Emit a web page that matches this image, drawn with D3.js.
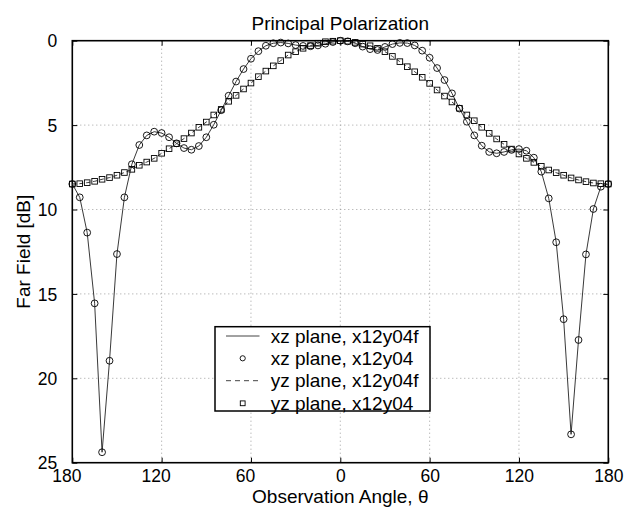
<!DOCTYPE html>
<html><head><meta charset="utf-8">
<script src="https://cdn.jsdelivr.net/npm/d3@7"></script>
<style>
html,body{margin:0;padding:0;background:#fff;}
text{font-family:"Liberation Sans",Arial,Helvetica,sans-serif;fill:#000;}
</style></head>
<body><svg id="chart" width="643" height="508"></svg>
<script>
const angles = d3.range(-180, 181, 5);
const xzValues = [8.49, 9.28, 11.37, 15.56, 24.38, 18.96, 12.64, 9.28, 7.32, 6.18, 5.61, 5.39, 5.47, 5.72, 6.08, 6.36, 6.46, 6.24, 5.72, 4.98, 4.12, 3.26, 2.42, 1.68, 1.07, 0.62, 0.30, 0.15, 0.11, 0.16, 0.26, 0.31, 0.33, 0.28, 0.18, 0.08, 0.00,
  0.04, 0.15, 0.35, 0.50, 0.55, 0.37, 0.20, 0.13, 0.14, 0.28, 0.59, 1.01, 1.62, 2.33, 3.12, 4.02, 4.80, 5.61, 6.22, 6.59, 6.67, 6.59, 6.47, 6.42, 6.52, 6.93, 7.76, 9.34, 11.94, 16.50, 23.32, 17.73, 12.66, 9.97, 8.65, 8.49];
const yzValues = [8.49, 8.47, 8.41, 8.33, 8.21, 8.11, 7.97, 7.81, 7.62, 7.38, 7.19, 6.97, 6.67, 6.40, 6.10, 5.80, 5.47, 5.13, 4.82, 4.40, 4.07, 3.59, 3.24, 2.86, 2.51, 2.13, 1.80, 1.49, 1.18, 0.85, 0.65, 0.45, 0.29, 0.15, 0.06, 0.03, 0.00,
  0.03, 0.10, 0.20, 0.30, 0.45, 0.65, 0.93, 1.24, 1.54, 1.84, 2.17, 2.53, 2.92, 3.28, 3.63, 4.00, 4.40, 4.74, 5.13, 5.49, 5.82, 6.14, 6.42, 6.71, 6.97, 7.21, 7.44, 7.66, 7.82, 7.97, 8.13, 8.25, 8.35, 8.43, 8.47, 8.49];
const xTickValues = [-180, -120, -60, 0, 60, 120, 180];
const xTickLabels = ["180", "120", "60", "0", "60", "120", "180"];
const yTickValues = [0, 5, 10, 15, 20, 25];
const legendLabels = ["xz plane, x12y04f", "xz plane, x12y04", "yz plane, x12y04f", "yz plane, x12y04"];
const titleText = "Principal Polarization";
const xLabel = "Observation Angle, \u03b8";
const yLabel = "Far Field [dB]";

const L = 72.3, R = 608.3, T = 40.7, B = 462.7;
const svg = d3.select("#chart");
const x = d3.scaleLinear().domain([-180, 180]).range([L, R]);
const y = d3.scaleLinear().domain([0, 25]).range([T, B]);

// grid
const grid = svg.append("g").attr("stroke", "#888").attr("stroke-width", 0.8).attr("stroke-dasharray", "1,3");
grid.selectAll(".gx").data(xTickValues.slice(1, -1)).enter().append("line")
  .attr("x1", d => x(d)).attr("x2", d => x(d)).attr("y1", T).attr("y2", B);
grid.selectAll(".gy").data(yTickValues.slice(1, -1)).enter().append("line")
  .attr("y1", d => y(d)).attr("y2", d => y(d)).attr("x1", L).attr("x2", R);

// axes with inner ticks
const labelMap = new Map(xTickValues.map((v, i) => [v, xTickLabels[i]]));
const axB = svg.append("g").attr("transform", `translate(0,${B})`)
  .call(d3.axisBottom(x).tickValues(xTickValues).tickSize(-5).tickPadding(7).tickFormat(d => labelMap.get(d)));
const axT = svg.append("g").attr("transform", `translate(0,${T})`)
  .call(d3.axisTop(x).tickValues(xTickValues).tickSize(-5).tickFormat(""));
const axL = svg.append("g").attr("transform", `translate(${L},0)`)
  .call(d3.axisLeft(y).tickValues(yTickValues).tickSize(-5).tickPadding(15).tickFormat(d3.format("d")));
const axR = svg.append("g").attr("transform", `translate(${R},0)`)
  .call(d3.axisRight(y).tickValues(yTickValues).tickSize(-5).tickFormat(""));
[axB, axT, axL, axR].forEach(a => {
  a.select(".domain").remove();
  a.selectAll(".tick line").attr("stroke", "#000").attr("stroke-width", 1);
  a.selectAll("text").style("font-family", '"Liberation Sans",Arial,sans-serif').style("font-size", "17.5px").attr("fill", "#000");
});
axB.selectAll(".tick text").attr("dx", d => d < 0 ? -6 : 0).attr("dy", "0.71em");
axL.selectAll(".tick text").attr("dy", "0.35em");

svg.append("rect").attr("x", L).attr("y", T).attr("width", R - L).attr("height", B - T)
  .attr("fill", "none").attr("stroke", "#000").attr("stroke-width", 1.6);

const xzData = angles.map((a, i) => [a, xzValues[i]]);
const yzData = angles.map((a, i) => [a, yzValues[i]]);
const line = d3.line().x(d => x(d[0])).y(d => y(d[1]));

svg.append("path").datum(xzData).attr("d", line).attr("fill", "none").attr("stroke", "#222").attr("stroke-width", 0.9);
svg.append("path").datum(yzData).attr("d", line).attr("fill", "none").attr("stroke", "#222").attr("stroke-width", 0.9).attr("stroke-dasharray", "4,3");

svg.append("g").selectAll("circle").data(xzData).enter().append("circle")
  .attr("cx", d => x(d[0])).attr("cy", d => y(d[1])).attr("r", 3.4)
  .attr("fill", "none").attr("stroke", "#000").attr("stroke-width", 0.9);
const sq = 5.6;
svg.append("g").selectAll("rect").data(yzData).enter().append("rect")
  .attr("x", d => x(d[0]) - sq / 2).attr("y", d => y(d[1]) - sq / 2).attr("width", sq).attr("height", sq)
  .attr("fill", "none").attr("stroke", "#000").attr("stroke-width", 0.9);

// legend
const lg = svg.append("g");
lg.append("rect").attr("x", 215).attr("y", 326.7).attr("width", 215).attr("height", 84.3)
  .attr("fill", "#fff").attr("stroke", "#000").attr("stroke-width", 1.5);
const rowY = [336, 358.3, 380.7, 403.3];
lg.append("line").attr("x1", 226).attr("x2", 259.5).attr("y1", rowY[0]).attr("y2", rowY[0]).attr("stroke", "#444").attr("stroke-width", 1);
lg.append("circle").attr("cx", 242.7).attr("cy", rowY[1]).attr("r", 2.6).attr("fill", "none").attr("stroke", "#000").attr("stroke-width", 0.9);
lg.append("line").attr("x1", 226).attr("x2", 259.5).attr("y1", rowY[2]).attr("y2", rowY[2]).attr("stroke", "#444").attr("stroke-width", 1).attr("stroke-dasharray", "5,4");
lg.append("rect").attr("x", 242.7 - 2.4).attr("y", rowY[3] - 2.4).attr("width", 4.8).attr("height", 4.8).attr("fill", "none").attr("stroke", "#000").attr("stroke-width", 0.9);
lg.selectAll("text").data(legendLabels).enter().append("text")
  .attr("x", 270.7).attr("y", (d, i) => rowY[i]).attr("dy", "0.35em")
  .style("font-size", "19px").text(d => d);

// titles
svg.append("text").attr("x", (L + R) / 2).attr("y", 30).attr("text-anchor", "middle").style("font-size", "19px").text(titleText);
svg.append("text").attr("x", (L + R) / 2).attr("y", 503).attr("text-anchor", "middle").style("font-size", "19px").text(xLabel);
svg.append("text").attr("transform", `translate(30,${(T + B) / 2}) rotate(-90)`).attr("text-anchor", "middle").style("font-size", "19px").text(yLabel);
</script></body></html>
